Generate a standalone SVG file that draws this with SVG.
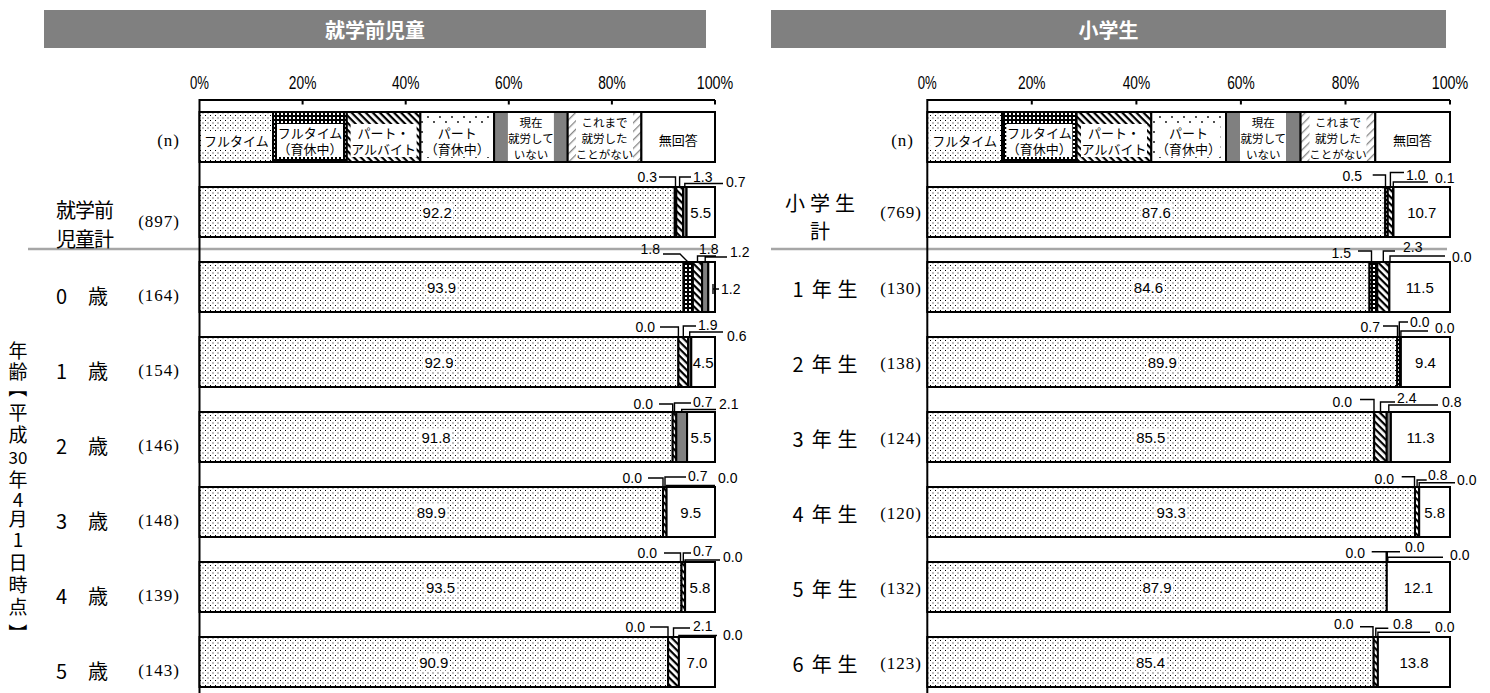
<svg xmlns="http://www.w3.org/2000/svg" width="1490" height="693" viewBox="0 0 1490 693">
<style>
.s{stroke:#000;stroke-width:2}
.ld{fill:none;stroke:#000;stroke-width:1.4}
.v{font-family:"Liberation Sans",Arial,sans-serif;font-size:14px;fill:#000;dominant-baseline:central}
.vb{font-size:15px}
.vm{text-anchor:middle}
.ve{text-anchor:end}
.ax{font-family:"Liberation Sans",Arial,sans-serif;font-size:18px;fill:#000;text-anchor:middle;dominant-baseline:central}
.lg{font-family:"Noto Sans CJK JP","Noto Sans CJK SC",sans-serif;font-size:13px;fill:#000;text-anchor:middle;dominant-baseline:central}
.lg3{font-size:11.5px}
.rl{font-family:"Noto Sans CJK JP","Noto Sans CJK SC",sans-serif;font-size:20px;fill:#000;text-anchor:middle;dominant-baseline:central}
.vt{font-family:"Noto Sans CJK JP","Noto Sans CJK SC",sans-serif;font-size:19px;fill:#000;text-anchor:middle;dominant-baseline:central}
.n{font-family:"Liberation Serif","Times New Roman",serif;font-size:17px;fill:#000;text-anchor:end;letter-spacing:1px;dominant-baseline:central}
.hd{font-family:"Noto Sans CJK JP","Noto Sans CJK SC",sans-serif;font-size:20px;font-weight:bold;fill:#fff;text-anchor:middle;dominant-baseline:central}
.wb{fill:#fff}
</style>
<defs>
<pattern id="pFt" width="5" height="5" patternUnits="userSpaceOnUse"><rect width="5" height="5" fill="#fff"/><rect x="0" y="0" width="1" height="1" fill="#000"/><rect x="2.5" y="2.5" width="1" height="1" fill="#000"/></pattern>
<pattern id="pFtk" width="4" height="4" patternUnits="userSpaceOnUse"><rect width="4" height="4" fill="#000"/><rect x="1" y="1" width="2" height="2" fill="#fff"/></pattern>
<pattern id="pPt" width="5" height="5" patternUnits="userSpaceOnUse" patternTransform="rotate(45)"><rect width="5" height="5" fill="#fff"/><rect width="5" height="2.2" fill="#000"/></pattern>
<pattern id="pPtk" width="12" height="10" patternUnits="userSpaceOnUse"><rect width="12" height="10" fill="#fff"/><circle cx="2" cy="2" r="0.9" fill="#000"/><circle cx="8" cy="7" r="0.9" fill="#000"/></pattern>
<pattern id="pNv" width="6" height="6" patternUnits="userSpaceOnUse" patternTransform="rotate(-45)"><rect width="6" height="6" fill="#fff"/><rect width="6" height="1.3" fill="#888"/></pattern>
</defs>
<rect width="1490" height="693" fill="#fff"/>

<!-- headers -->
<g id="header-left"><rect x="44" y="10" width="662" height="38" fill="#808080"/><text class="hd" x="375" y="29">就学前児童</text></g>
<g id="header-right"><rect x="771" y="10" width="675" height="38" fill="#808080"/><text class="hd" x="1108.5" y="29">小学生</text></g>

<!-- separators -->
<line x1="28" y1="249" x2="715" y2="249" stroke="#a6a6a6" stroke-width="2.5"/>
<line x1="771" y1="249" x2="1447" y2="249" stroke="#a6a6a6" stroke-width="2.5"/>

<!-- axes -->
<g id="axis-left">
<path d="M199.5,693 V100 H715 M199.5,100 v4.5 M302.6,100 v4.5 M405.7,100 v4.5 M508.8,100 v4.5 M611.9,100 v4.5 M715,100 v4.5" fill="none" stroke="#000" stroke-width="2"/>
<text class="ax" x="199.5" y="83" textLength="19" lengthAdjust="spacingAndGlyphs">0%</text>
<text class="ax" x="302.6" y="83" textLength="27.5" lengthAdjust="spacingAndGlyphs">20%</text>
<text class="ax" x="405.7" y="83" textLength="27.5" lengthAdjust="spacingAndGlyphs">40%</text>
<text class="ax" x="508.8" y="83" textLength="27.5" lengthAdjust="spacingAndGlyphs">60%</text>
<text class="ax" x="611.9" y="83" textLength="27.5" lengthAdjust="spacingAndGlyphs">80%</text>
<text class="ax" x="715" y="83" textLength="36.5" lengthAdjust="spacingAndGlyphs">100%</text>
</g>
<g id="axis-right">
<path d="M927.3,693 V100 H1450 M927.3,100 v4.5 M1031.8,100 v4.5 M1136.4,100 v4.5 M1240.9,100 v4.5 M1345.5,100 v4.5 M1450,100 v4.5" fill="none" stroke="#000" stroke-width="2"/>
<text class="ax" x="927.3" y="83" textLength="19" lengthAdjust="spacingAndGlyphs">0%</text>
<text class="ax" x="1031.8" y="83" textLength="27.5" lengthAdjust="spacingAndGlyphs">20%</text>
<text class="ax" x="1136.4" y="83" textLength="27.5" lengthAdjust="spacingAndGlyphs">40%</text>
<text class="ax" x="1240.9" y="83" textLength="27.5" lengthAdjust="spacingAndGlyphs">60%</text>
<text class="ax" x="1345.5" y="83" textLength="27.5" lengthAdjust="spacingAndGlyphs">80%</text>
<text class="ax" x="1450" y="83" textLength="36.5" lengthAdjust="spacingAndGlyphs">100%</text>
</g>

<!-- legend left -->
<g id="legend-left">
<rect class="s" x="199.5" y="112" width="73.6" height="50" fill="url(#pFt)"/>
<rect class="s" x="273.1" y="112" width="73.7" height="50" fill="url(#pFtk)"/>
<rect class="s" x="346.8" y="112" width="73.6" height="50" fill="url(#pPt)"/>
<rect class="s" x="420.4" y="112" width="73.7" height="50" fill="url(#pPtk)"/>
<rect class="s" x="494.1" y="112" width="73.6" height="50" fill="#808080"/>
<rect class="s" x="567.7" y="112" width="73.7" height="50" fill="url(#pNv)"/>
<rect class="s" x="641.4" y="112" width="73.6" height="50" fill="#fff"/>
<rect class="wb" x="202" y="131" width="69" height="18"/>
<rect class="wb" x="277" y="124" width="66" height="33"/>
<rect class="wb" x="350.6" y="124" width="66" height="33"/>
<rect class="wb" x="425" y="124" width="64" height="33"/>
<rect class="wb" x="507.9" y="113" width="46" height="48"/>
<rect class="wb" x="576" y="113" width="57" height="48"/>
<text class="lg" x="236.3" y="140" font-size="13.5">フルタイム</text>
<text class="lg" x="310" y="132">フルタイム</text><text class="lg" x="310" y="148">（育休中）</text>
<text class="lg" x="383.6" y="132">パート・</text><text class="lg" x="383.6" y="148">アルバイト</text>
<text class="lg" x="457.3" y="132">パート</text><text class="lg" x="457.3" y="148">（育休中）</text>
<text class="lg lg3" x="530.9" y="121.5">現在</text><text class="lg lg3" x="530.9" y="137.5">就労して</text><text class="lg lg3" x="530.9" y="153.5">いない</text>
<text class="lg lg3" x="604.6" y="121.5">これまで</text><text class="lg lg3" x="604.6" y="137.5">就労した</text><text class="lg lg3" x="604.6" y="153.5">ことがない</text>
<text class="lg" x="678.2" y="139" font-size="14">無回答</text>
<text class="n" x="180" y="140">(n)</text>
</g>

<!-- legend right -->
<g id="legend-right">
<rect class="s" x="927.3" y="112" width="74.7" height="50" fill="url(#pFt)"/>
<rect class="s" x="1002" y="112" width="74.6" height="50" fill="url(#pFtk)"/>
<rect class="s" x="1076.6" y="112" width="74.7" height="50" fill="url(#pPt)"/>
<rect class="s" x="1151.3" y="112" width="74.7" height="50" fill="url(#pPtk)"/>
<rect class="s" x="1226" y="112" width="74.6" height="50" fill="#808080"/>
<rect class="s" x="1300.6" y="112" width="74.7" height="50" fill="url(#pNv)"/>
<rect class="s" x="1375.3" y="112" width="74.7" height="50" fill="#fff"/>
<rect class="wb" x="930.1" y="131" width="69" height="18"/>
<rect class="wb" x="1006.3" y="124" width="66" height="33"/>
<rect class="wb" x="1081" y="124" width="66" height="33"/>
<rect class="wb" x="1156.6" y="124" width="64" height="33"/>
<rect class="wb" x="1240" y="113" width="46" height="48"/>
<rect class="wb" x="1309.5" y="113" width="57" height="48"/>
<text class="lg" x="964.6" y="140" font-size="13.5">フルタイム</text>
<text class="lg" x="1039.3" y="132">フルタイム</text><text class="lg" x="1039.3" y="148">（育休中）</text>
<text class="lg" x="1114" y="132">パート・</text><text class="lg" x="1114" y="148">アルバイト</text>
<text class="lg" x="1188.6" y="132">パート</text><text class="lg" x="1188.6" y="148">（育休中）</text>
<text class="lg lg3" x="1263.3" y="121.5">現在</text><text class="lg lg3" x="1263.3" y="137.5">就労して</text><text class="lg lg3" x="1263.3" y="153.5">いない</text>
<text class="lg lg3" x="1338" y="121.5">これまで</text><text class="lg lg3" x="1338" y="137.5">就労した</text><text class="lg lg3" x="1338" y="153.5">ことがない</text>
<text class="lg" x="1412.6" y="139" font-size="14">無回答</text>
<text class="n" x="914" y="140">(n)</text>
</g>

<!-- vertical label -->
<g id="age-label" class="vt">
<text x="18" y="349">年</text><text x="18" y="370">齢</text><text x="18" y="388" transform="rotate(90 18 388)">【</text><text x="18" y="411">平</text><text x="18" y="433">成</text><text x="18" y="456" font-size="17">30</text><text x="18" y="478">年</text><text x="18" y="498.5">4</text><text x="18" y="517.5">月</text><text x="18" y="538">1</text><text x="18" y="561">日</text><text x="18" y="583">時</text><text x="18" y="605">点</text><text x="18" y="633" transform="rotate(90 18 633)">】</text>
</g>

<!-- LEFT rows -->
<g id="row-pre-total">
<text class="rl" x="66" y="209" font-size="19">就</text><text class="rl" x="85" y="209" font-size="19">学</text><text class="rl" x="104" y="209" font-size="19">前</text>
<text class="rl" x="66" y="238" font-size="19">児</text><text class="rl" x="85" y="238" font-size="19">童</text><text class="rl" x="104" y="238" font-size="19">計</text>
<text class="n" x="180" y="221">(897)</text>
<rect class="s" x="199.5" y="187" width="475.3" height="50" fill="url(#pFt)"/>
<rect class="s" x="674.8" y="187" width="1.5" height="50" fill="url(#pFtk)"/>
<rect class="s" x="676.3" y="187" width="6.7" height="50" fill="url(#pPt)"/>
<rect class="s" x="683" y="187" width="3.6" height="50" fill="#808080"/>
<rect class="s" x="686.6" y="187" width="28.4" height="50" fill="#fff"/>
<rect class="wb" x="421" y="203.5" width="32" height="17"/>
<text class="v vb vm" x="437.2" y="212">92.2</text><text class="v vb vm" x="700.8" y="212">5.5</text>
</g>
<g id="row-age0">
<text class="rl" x="61.5" y="295">0</text><text class="rl" x="98" y="295">歳</text>
<text class="n" x="180" y="295">(164)</text>
<rect class="s" x="199.5" y="262" width="484.1" height="50" fill="url(#pFt)"/>
<rect class="s" x="683.6" y="262" width="9.3" height="50" fill="url(#pFtk)"/>
<rect class="s" x="692.9" y="262" width="9.2" height="50" fill="url(#pPt)"/>
<rect class="s" x="702.1" y="262" width="6.2" height="50" fill="#808080"/>
<rect class="s" x="708.3" y="262" width="6.7" height="50" fill="#fff"/>
<rect class="wb" x="425.6" y="278.5" width="32" height="17"/>
<text class="v vb vm" x="441.6" y="287">93.9</text>
</g>
<g id="row-age1">
<text class="rl" x="61.5" y="370">1</text><text class="rl" x="98" y="370">歳</text>
<text class="n" x="180" y="370">(154)</text>
<rect class="s" x="199.5" y="337" width="478.9" height="50" fill="url(#pFt)"/>
<rect class="s" x="678.4" y="337" width="9.8" height="50" fill="url(#pPt)"/>
<rect class="s" x="688.2" y="337" width="3.1" height="50" fill="#808080"/>
<rect class="s" x="691.3" y="337" width="23.7" height="50" fill="#fff"/>
<rect class="wb" x="423" y="353.5" width="32" height="17"/>
<text class="v vb vm" x="439" y="362">92.9</text><text class="v vb vm" x="703.2" y="362">4.5</text>
</g>
<g id="row-age2">
<text class="rl" x="61.5" y="445">2</text><text class="rl" x="98" y="445">歳</text>
<text class="n" x="180" y="445">(146)</text>
<rect class="s" x="199.5" y="412" width="473.2" height="50" fill="url(#pFt)"/>
<rect class="s" x="672.7" y="412" width="3.6" height="50" fill="url(#pPt)"/>
<rect class="s" x="676.3" y="412" width="10.8" height="50" fill="#808080"/>
<rect class="s" x="687.1" y="412" width="27.9" height="50" fill="#fff"/>
<rect class="wb" x="420" y="428.5" width="32" height="17"/>
<text class="v vb vm" x="436.1" y="437">91.8</text><text class="v vb vm" x="701" y="437">5.5</text>
</g>
<g id="row-age3">
<text class="rl" x="61.5" y="520">3</text><text class="rl" x="98" y="520">歳</text>
<text class="n" x="180" y="520">(148)</text>
<rect class="s" x="199.5" y="487" width="463.5" height="50" fill="url(#pFt)"/>
<rect class="s" x="663" y="487" width="3.6" height="50" fill="url(#pPt)"/>
<rect class="s" x="666.6" y="487" width="48.4" height="50" fill="#fff"/>
<rect class="wb" x="415.3" y="503.5" width="32" height="17"/>
<text class="v vb vm" x="431.3" y="512">89.9</text><text class="v vb vm" x="690.8" y="512">9.5</text>
</g>
<g id="row-age4">
<text class="rl" x="61.5" y="595">4</text><text class="rl" x="98" y="595">歳</text>
<text class="n" x="180" y="595">(139)</text>
<rect class="s" x="199.5" y="562" width="482" height="50" fill="url(#pFt)"/>
<rect class="s" x="681.5" y="562" width="3.6" height="50" fill="url(#pPt)"/>
<rect class="s" x="685.1" y="562" width="29.9" height="50" fill="#fff"/>
<rect class="wb" x="424.5" y="578.5" width="32" height="17"/>
<text class="v vb vm" x="440.5" y="587">93.5</text><text class="v vb vm" x="700" y="587">5.8</text>
</g>
<g id="row-age5">
<text class="rl" x="61.5" y="670">5</text><text class="rl" x="98" y="670">歳</text>
<text class="n" x="180" y="670">(143)</text>
<rect class="s" x="199.5" y="637" width="468.6" height="50" fill="url(#pFt)"/>
<rect class="s" x="668.1" y="637" width="10.8" height="50" fill="url(#pPt)"/>
<rect class="s" x="678.9" y="637" width="36.1" height="50" fill="#fff"/>
<rect class="wb" x="417.8" y="653.5" width="32" height="17"/>
<text class="v vb vm" x="433.8" y="662">90.9</text><text class="v vb vm" x="697" y="662">7.0</text>
</g>

<!-- RIGHT rows -->
<g id="row-ele-total">
<text class="rl" x="795" y="202">小</text><text class="rl" x="820" y="202">学</text><text class="rl" x="845" y="202">生</text>
<text class="rl" x="820" y="230">計</text>
<text class="n" x="922" y="212">(769)</text>
<rect class="s" x="927.3" y="187" width="457.9" height="50" fill="url(#pFt)"/>
<rect class="s" x="1385.2" y="187" width="2.6" height="50" fill="url(#pFtk)"/>
<rect class="s" x="1387.8" y="187" width="5.2" height="50" fill="url(#pPt)"/>
<rect class="s" x="1393" y="187" width="0.5" height="50" fill="#808080"/>
<rect class="s" x="1393.5" y="187" width="56.5" height="50" fill="#fff"/>
<rect class="wb" x="1140.3" y="203.5" width="32" height="17"/>
<text class="v vb vm" x="1156.3" y="212">87.6</text><text class="v vb vm" x="1421.8" y="212">10.7</text>
</g>
<g id="row-g1">
<text class="rl" x="798" y="288">1</text><text class="rl" x="821.7" y="288">年</text><text class="rl" x="847.5" y="288">生</text>
<text class="n" x="922" y="288">(130)</text>
<rect class="s" x="927.3" y="262" width="442.2" height="50" fill="url(#pFt)"/>
<rect class="s" x="1369.5" y="262" width="7.8" height="50" fill="url(#pFtk)"/>
<rect class="s" x="1377.3" y="262" width="12.1" height="50" fill="url(#pPt)"/>
<rect class="s" x="1389.4" y="262" width="60.6" height="50" fill="#fff"/>
<rect class="wb" x="1132.4" y="278.5" width="32" height="17"/>
<text class="v vb vm" x="1148.4" y="287">84.6</text><text class="v vb vm" x="1419.7" y="287">11.5</text>
</g>
<g id="row-g2">
<text class="rl" x="798" y="363">2</text><text class="rl" x="821.7" y="363">年</text><text class="rl" x="847.5" y="363">生</text>
<text class="n" x="922" y="363">(138)</text>
<rect class="s" x="927.3" y="337" width="469.9" height="50" fill="url(#pFt)"/>
<rect class="s" x="1397.2" y="337" width="3.7" height="50" fill="url(#pFtk)"/>
<rect class="s" x="1400.9" y="337" width="49.1" height="50" fill="#fff"/>
<rect class="wb" x="1146.3" y="353.5" width="32" height="17"/>
<text class="v vb vm" x="1162.3" y="362">89.9</text><text class="v vb vm" x="1425.5" y="362">9.4</text>
</g>
<g id="row-g3">
<text class="rl" x="798" y="438">3</text><text class="rl" x="821.7" y="438">年</text><text class="rl" x="847.5" y="438">生</text>
<text class="n" x="922" y="438">(124)</text>
<rect class="s" x="927.3" y="412" width="446.9" height="50" fill="url(#pFt)"/>
<rect class="s" x="1374.2" y="412" width="12.5" height="50" fill="url(#pPt)"/>
<rect class="s" x="1386.7" y="412" width="4.2" height="50" fill="#808080"/>
<rect class="s" x="1390.9" y="412" width="59.1" height="50" fill="#fff"/>
<rect class="wb" x="1134.8" y="428.5" width="32" height="17"/>
<text class="v vb vm" x="1150.8" y="437">85.5</text><text class="v vb vm" x="1420.5" y="437">11.3</text>
</g>
<g id="row-g4">
<text class="rl" x="798" y="513">4</text><text class="rl" x="821.7" y="513">年</text><text class="rl" x="847.5" y="513">生</text>
<text class="n" x="922" y="513">(120)</text>
<rect class="s" x="927.3" y="487" width="487.7" height="50" fill="url(#pFt)"/>
<rect class="s" x="1415" y="487" width="4.2" height="50" fill="url(#pPt)"/>
<rect class="s" x="1419.2" y="487" width="30.8" height="50" fill="#fff"/>
<rect class="wb" x="1155.2" y="503.5" width="32" height="17"/>
<text class="v vb vm" x="1171.2" y="512">93.3</text><text class="v vb vm" x="1434.6" y="512">5.8</text>
</g>
<g id="row-g5">
<text class="rl" x="798" y="588">5</text><text class="rl" x="821.7" y="588">年</text><text class="rl" x="847.5" y="588">生</text>
<text class="n" x="922" y="588">(132)</text>
<rect class="s" x="927.3" y="562" width="459.5" height="50" fill="url(#pFt)"/>
<rect class="s" x="1386.8" y="562" width="63.2" height="50" fill="#fff"/>
<rect class="wb" x="1141" y="578.5" width="32" height="17"/>
<text class="v vb vm" x="1157" y="587">87.9</text><text class="v vb vm" x="1418.4" y="587">12.1</text>
</g>
<g id="row-g6">
<text class="rl" x="798" y="663">6</text><text class="rl" x="821.7" y="663">年</text><text class="rl" x="847.5" y="663">生</text>
<text class="n" x="922" y="663">(123)</text>
<rect class="s" x="927.3" y="637" width="446.4" height="50" fill="url(#pFt)"/>
<rect class="s" x="1373.7" y="637" width="4.2" height="50" fill="url(#pPt)"/>
<rect class="s" x="1377.9" y="637" width="72.1" height="50" fill="#fff"/>
<rect class="wb" x="1134.5" y="653.5" width="32" height="17"/>
<text class="v vb vm" x="1150.5" y="662">85.4</text><text class="v vb vm" x="1414" y="662">13.8</text>
</g>

<!-- connectors: leader lines -->
<g id="connectors">
<path class="ld" d="M659,177H675.5V187 M679.6,187V177H691 M684.8,187V183.5H723"/>
<path class="ld" d="M663,254H680L688,262 M697.5,262V256H716 M705.2,262V257H727 M713,284V294 M713,289H719"/>
<path class="ld" d="M660,327H678.4V337 M683.3,337V326H696 M689.7,337V332H723"/>
<path class="ld" d="M659,404H672.7V412 M674.5,412V403H691 M681.7,412V409.5H716"/>
<path class="ld" d="M648,478H663V487 M665,487V477H686 M666.6,487V485.5H715"/>
<path class="ld" d="M664,553H680.5V562 M683.3,562V553H691 M685.1,562V560H720"/>
<path class="ld" d="M650,627H668V637 M673.5,637V628H690 M678.9,637V635.5H717"/>
<path class="ld" d="M1372.7,175H1385.5V187 M1390.4,187V172.5H1404 M1393.3,187V182H1428"/>
<path class="ld" d="M1358,251H1371.5V262 M1383.3,262V251H1395 M1390,262V256H1445"/>
<path class="ld" d="M1383,326H1397.5V337 M1399.3,337V322H1408 M1400.9,337V331H1428"/>
<path class="ld" d="M1360,399.5H1374V412 M1380.5,412V402H1395 M1388.8,412V405H1438"/>
<path class="ld" d="M1401.7,476.7H1414.5V487 M1417.1,487V480H1426.7 M1419.2,487V482.7H1455"/>
<path class="ld" d="M1371.7,551.7H1386.2V562 M1387.3,562V551.7H1400 M1387.8,562V557.3H1443"/>
<path class="ld" d="M1360,626.7H1373V637 M1375.8,637V628.3H1388.3 M1377.9,637V632.3H1430"/>
</g>

<!-- leader labels -->
<g id="leader-labels">
<text class="v ve" x="657" y="177">0.3</text><text class="v" x="693" y="177">1.3</text><text class="v" x="726" y="182">0.7</text>
<text class="v ve" x="660" y="249">1.8</text><text class="v" x="699" y="249">1.8</text><text class="v" x="730" y="252">1.2</text><text class="v" x="721" y="289">1.2</text>
<text class="v ve" x="655" y="327">0.0</text><text class="v" x="698" y="325">1.9</text><text class="v" x="727" y="336">0.6</text>
<text class="v ve" x="653" y="404">0.0</text><text class="v" x="693" y="402">0.7</text><text class="v" x="719" y="404">2.1</text>
<text class="v ve" x="642" y="478">0.0</text><text class="v" x="688" y="476">0.7</text><text class="v" x="718" y="478">0.0</text>
<text class="v ve" x="657" y="553">0.0</text><text class="v" x="693" y="551">0.7</text><text class="v" x="723" y="557">0.0</text>
<text class="v ve" x="645" y="627">0.0</text><text class="v" x="693" y="626">2.1</text><text class="v" x="723" y="635">0.0</text>
<text class="v ve" x="1362" y="176">0.5</text><text class="v" x="1406" y="175">1.0</text><text class="v" x="1435" y="178">0.1</text>
<text class="v ve" x="1351" y="253">1.5</text><text class="v" x="1403" y="247">2.3</text><text class="v" x="1452" y="256.5">0.0</text>
<text class="v ve" x="1380" y="326.5">0.7</text><text class="v" x="1410" y="322">0.0</text><text class="v" x="1435" y="328">0.0</text>
<text class="v ve" x="1352" y="401.5">0.0</text><text class="v" x="1397" y="397.5">2.4</text><text class="v" x="1442" y="401.5">0.8</text>
<text class="v ve" x="1394" y="478.5">0.0</text><text class="v" x="1428" y="475">0.8</text><text class="v" x="1457" y="480">0.0</text>
<text class="v ve" x="1365" y="552.7">0.0</text><text class="v" x="1405" y="546.7">0.0</text><text class="v" x="1450" y="555">0.0</text>
<text class="v ve" x="1353.5" y="624">0.0</text><text class="v" x="1393" y="624">0.8</text><text class="v" x="1435" y="627.3">0.0</text>
</g>
</svg>
